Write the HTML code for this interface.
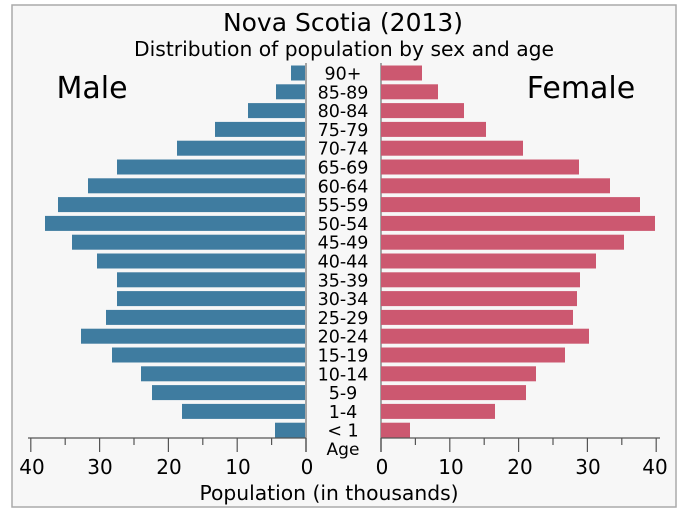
<!DOCTYPE html>
<html><head><meta charset="utf-8"><style>body{margin:0;background:#fff}svg{display:block}</style></head><body>
<svg width="683" height="512" viewBox="0 0 683 512" xmlns="http://www.w3.org/2000/svg" font-family="DejaVu Sans, Liberation Sans, sans-serif">
<rect x="12" y="5" width="664" height="502" fill="#f7f7f7" stroke="#aaa" stroke-width="1.5"/>
<text x="343" y="31" font-size="25" text-anchor="middle">Nova Scotia (2013)</text>
<text x="344" y="56" font-size="20.3" text-anchor="middle">Distribution of population by sex and age</text>
<text x="92" y="98" font-size="30" text-anchor="middle">Male</text>
<text x="581" y="98" font-size="30" text-anchor="middle">Female</text>
<line x1="306" y1="63" x2="306" y2="452" stroke="#888" stroke-width="1.5"/>
<line x1="381" y1="63" x2="381" y2="452" stroke="#888" stroke-width="1.5"/>
<g id="bars"></g>
<g stroke="#555" stroke-width="1.2">
<line x1="28" y1="438" x2="306" y2="438"/>
<line x1="381" y1="438" x2="660" y2="438"/>
</g>
<g id="ticks" stroke="#555" stroke-width="1.2"></g>
<g font-size="20" text-anchor="middle">
<text x="32" y="474">40</text><text x="100" y="474">30</text><text x="169" y="474">20</text><text x="238" y="474">10</text><text x="307" y="474">0</text>
<text x="382" y="474">0</text><text x="451" y="474">10</text><text x="520" y="474">20</text><text x="588" y="474">30</text><text x="655" y="474">40</text>
</g>
<text x="343" y="455" font-size="17" text-anchor="middle">Age</text>
<text x="329" y="500" font-size="20.3" text-anchor="middle">Population (in thousands)</text>
<g id="labels" font-size="17.5" text-anchor="middle"></g>
<script>
var ns="http://www.w3.org/2000/svg";
var lab=["90+","85-89","80-84","75-79","70-74","65-69","60-64","55-59","50-54","45-49","40-44","35-39","30-34","25-29","20-24","15-19","10-14","5-9","1-4","< 1"];
var m=[291,276,248,215,177,117,88,58,45,72,97,117,117,106,81,112,141,152,182,275];
var f=[422,438,464,486,523,579,610,640,655,624,596,580,577,573,589,565,536,526,495,410];
var b=document.getElementById("bars"),l=document.getElementById("labels"),t=document.getElementById("ticks");
function el(n,a,p){var e=document.createElementNS(ns,n);for(var k in a)e.setAttribute(k,a[k]);p.appendChild(e);return e;}
for(var i=0;i<20;i++){var c=73+i*18.8;
el("rect",{x:m[i],y:c-7.5,width:305-m[i],height:15,fill:"#3f7ca0"},b);
el("rect",{x:381,y:c-7.5,width:f[i]-381,height:15,fill:"#cc5870"},b);
var tx=el("text",{x:343,y:c+6.5},l);tx.textContent=lab[i];}
for(var k=0;k<=8;k++){var len=(k%2==0)?14:7;
var x1=306-k*34.4;el("line",{x1:x1,y1:438,x2:x1,y2:438+len},t);
var x2=381+k*34.4;el("line",{x1:x2,y1:438,x2:x2,y2:438+len},t);}
</script>
</svg>
</body></html>
